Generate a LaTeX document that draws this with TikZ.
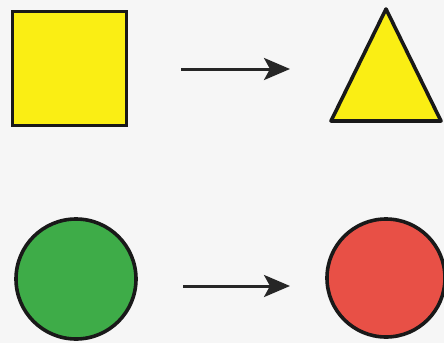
\documentclass[tikz,border=0pt]{standalone}
\usetikzlibrary{arrows.meta}
\definecolor{bg}{RGB}{246,246,246}
\definecolor{shapeyellow}{RGB}{250,238,20}
\definecolor{shapegreen}{RGB}{62,172,72}
\definecolor{shapered}{RGB}{232,80,70}
\tikzset{
  outline/.style={draw=black!90, line width=3.6pt},
  arrowline/.style={draw=black!85, line width=3pt, -{Stealth[length=26pt,width=22pt,inset=6pt]}}
}
\begin{document}
\begin{tikzpicture}[x=1pt,y=-1pt]
\fill[bg] (0,0) rectangle (444,343);
\useasboundingbox (0,0) rectangle (444,343);
% yellow square
\node[outline, fill=shapeyellow, minimum size=114pt, inner sep=0pt] (sq) at (69.5,68.5) {};
% triangle
\coordinate (tA) at (386,9);
\coordinate (tL) at (331,121);
\coordinate (tR) at (441,121);
\draw[outline, fill=shapeyellow, line join=round] (tA) -- (tR) -- (tL) -- cycle;
% circles
\node[outline, circle, fill=shapegreen, minimum size=120pt, inner sep=0pt] (gc) at (76,279) {};
\node[outline, circle, fill=shapered, minimum size=118pt, inner sep=0pt] (rc) at (386,278) {};
% arrows
\coordinate (a1s) at (181,69);
\coordinate (a1e) at (290,69);
\coordinate (a2s) at (183,286);
\coordinate (a2e) at (290,286);
\draw[arrowline] (a1s) -- (a1e);
\draw[arrowline] (a2s) -- (a2e);
\end{tikzpicture}
\end{document}
